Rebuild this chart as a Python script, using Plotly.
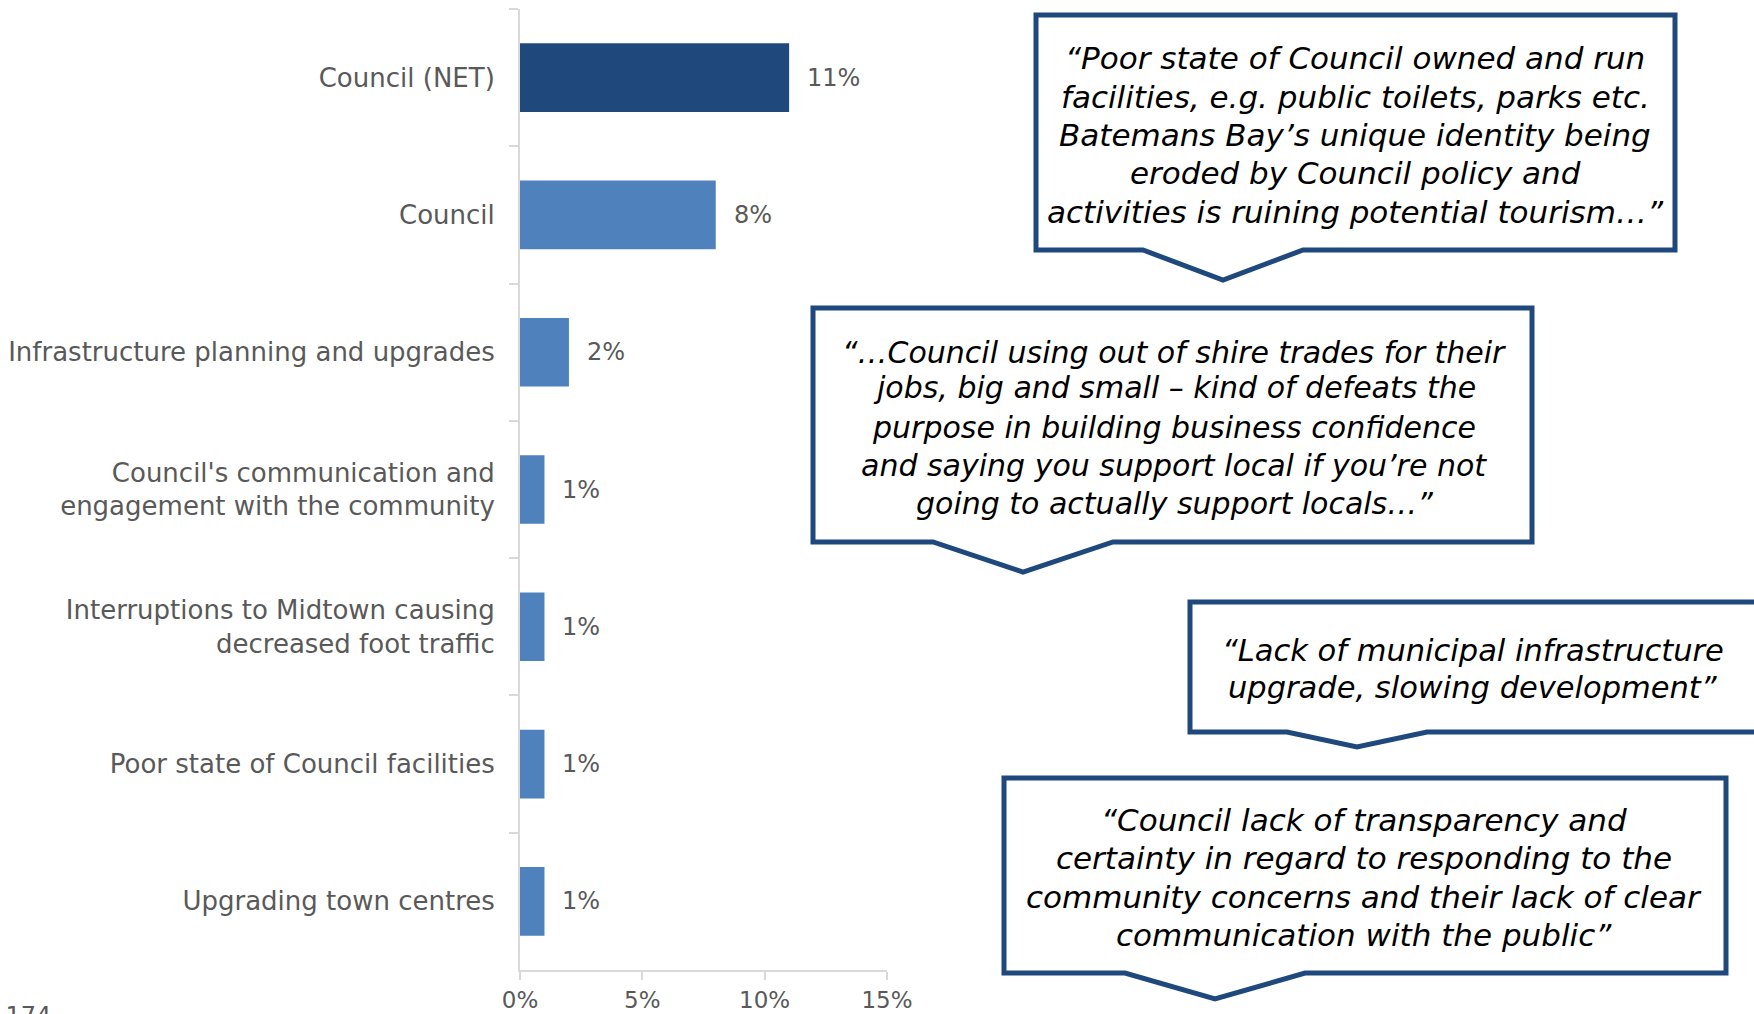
import plotly.graph_objects as go

# ---- data -------------------------------------------------------------
categories = [
    "Council (NET)",
    "Council",
    "Infrastructure planning and upgrades",
    "Council's communication and<br>engagement with the community",
    "Interruptions to Midtown causing<br>decreased foot traffic",
    "Poor state of Council facilities",
    "Upgrading town centres",
]
values = [11, 8, 2, 1, 1, 1, 1]
bar_colors = ["#1F497D", "#4F81BD", "#4F81BD", "#4F81BD", "#4F81BD", "#4F81BD", "#4F81BD"]
x_tick_vals = [0, 5, 10, 15]
x_tick_text = ["0%", "5%", "10%", "15%"]
sample_note = "n = 174"

quote_1 = ["“Poor state of Council owned and run",
           "facilities, e.g. public toilets, parks etc.",
           "Batemans Bay’s unique identity being",
           "eroded by Council policy and",
           "activities is ruining potential tourism…”"]
quote_2 = ["“…Council using out of shire trades for their",
           "jobs, big and small – kind of defeats the",
           "purpose in building business confidence",
           "and saying you support local if you’re not",
           "going to actually support locals…”"]
quote_3 = ["“Lack of municipal infrastructure",
           "upgrade, slowing development”"]
quote_4 = ["“Council lack of transparency and",
           "certainty in regard to responding to the",
           "community concerns and their lack of clear",
           "communication with the public”"]

# ---- page geometry (pixels -> paper) ---------------------------------
W, H = 1754, 1014


def px(x):
    return x / W


def py(y):
    return 1 - y / H


GREY_TEXT = "#595959"
AXIS_GREY = "#D9D9D9"
BOX_BLUE = "#1F497D"
LABEL_FONT = "DejaVu Sans"
QUOTE_FONT = "DejaVu Sans"

fig = go.Figure()
fig.add_trace(go.Bar(
    y=categories,
    x=values,
    orientation="h",
    marker=dict(color=bar_colors, line=dict(width=0)),
    hoverinfo="skip",
))

# value labels to the right of each bar
annotations = []
for cat, v in zip(categories, values):
    annotations.append(dict(
        x=v, y=cat, xref="x", yref="y", text=f"{v}%",
        showarrow=False, xanchor="left", yanchor="middle", xshift=16,
        font=dict(family=LABEL_FONT, size=24, color=GREY_TEXT),
    ))

# respondent base, bottom left
annotations.append(dict(
    x=px(53), y=py(1016), xref="paper", yref="paper", text=sample_note,
    showarrow=False, xanchor="right", yanchor="middle",
    font=dict(family=LABEL_FONT, size=24, color=GREY_TEXT),
))

# speech-bubble callouts: box (left, top, right, bottom), pointer (left base, tip x, tip y, right base)
bubbles = [
    dict(box=(1036, 15, 1675, 250), ptr=(1143, 1223, 280, 1303),
         lines=quote_1, cx=1355, ys=[58, 97, 135, 173, 212], size=31),
    dict(box=(813, 308, 1532, 542), ptr=(933, 1023, 572, 1113),
         lines=quote_2, cx=1174, ys=[352, 388, 427, 465, 503], size=30),
    dict(box=(1190, 602, 1775, 732), ptr=(1287, 1357, 747, 1427),
         lines=quote_3, cx=1473, ys=[650, 687], size=30.5),
    dict(box=(1004, 778, 1726, 973), ptr=(1125, 1215, 999, 1305),
         lines=quote_4, cx=1364, ys=[820, 858, 897, 935], size=31),
]

shapes = []
for b in bubbles:
    l, t, r, btm = b["box"]
    pl, tx, ty, pr = b["ptr"]
    path = (f"M {px(l)},{py(t)} L {px(r)},{py(t)} L {px(r)},{py(btm)} "
            f"L {px(pr)},{py(btm)} L {px(tx)},{py(ty)} L {px(pl)},{py(btm)} "
            f"L {px(l)},{py(btm)} Z")
    shapes.append(dict(type="path", path=path, xref="paper", yref="paper",
                       line=dict(color=BOX_BLUE, width=5), fillcolor="white",
                       layer="above"))
    for line, y in zip(b["lines"], b["ys"]):
        annotations.append(dict(
            x=px(b["cx"]), y=py(y), xref="paper", yref="paper",
            text=line, showarrow=False, xanchor="center", yanchor="middle",
            font=dict(family=QUOTE_FONT, size=b["size"], color="#000000", style="italic"),
        ))

fig.update_layout(
    width=W, height=H,
    margin=dict(l=0, r=0, t=0, b=0),
    paper_bgcolor="white", plot_bgcolor="white",
    showlegend=False,
    bargap=0.5,
    shapes=shapes,
    annotations=annotations,
    xaxis=dict(
        domain=[px(520), px(887)], range=[0, 15],
        tickvals=x_tick_vals, ticktext=x_tick_text,
        showgrid=False, zeroline=False,
        showline=True, linecolor=AXIS_GREY, linewidth=2,
        ticks="outside", ticklen=8, tickcolor=AXIS_GREY, tickwidth=2,
        tickfont=dict(family=LABEL_FONT, size=23, color=GREY_TEXT),
        automargin=False, fixedrange=True,
    ),
    yaxis=dict(
        domain=[py(970), py(9)],
        categoryorder="array", categoryarray=categories,
        autorange="reversed",
        showgrid=False, zeroline=False,
        showline=True, linecolor=AXIS_GREY, linewidth=2,
        ticks="outside", ticklen=9, tickcolor=AXIS_GREY, tickwidth=2,
        tickson="boundaries",
        ticklabelstandoff=18,
        tickfont=dict(family=LABEL_FONT, size=26, color=GREY_TEXT),
        automargin=False, fixedrange=True,
    ),
)

fig.write_html("out.html")
